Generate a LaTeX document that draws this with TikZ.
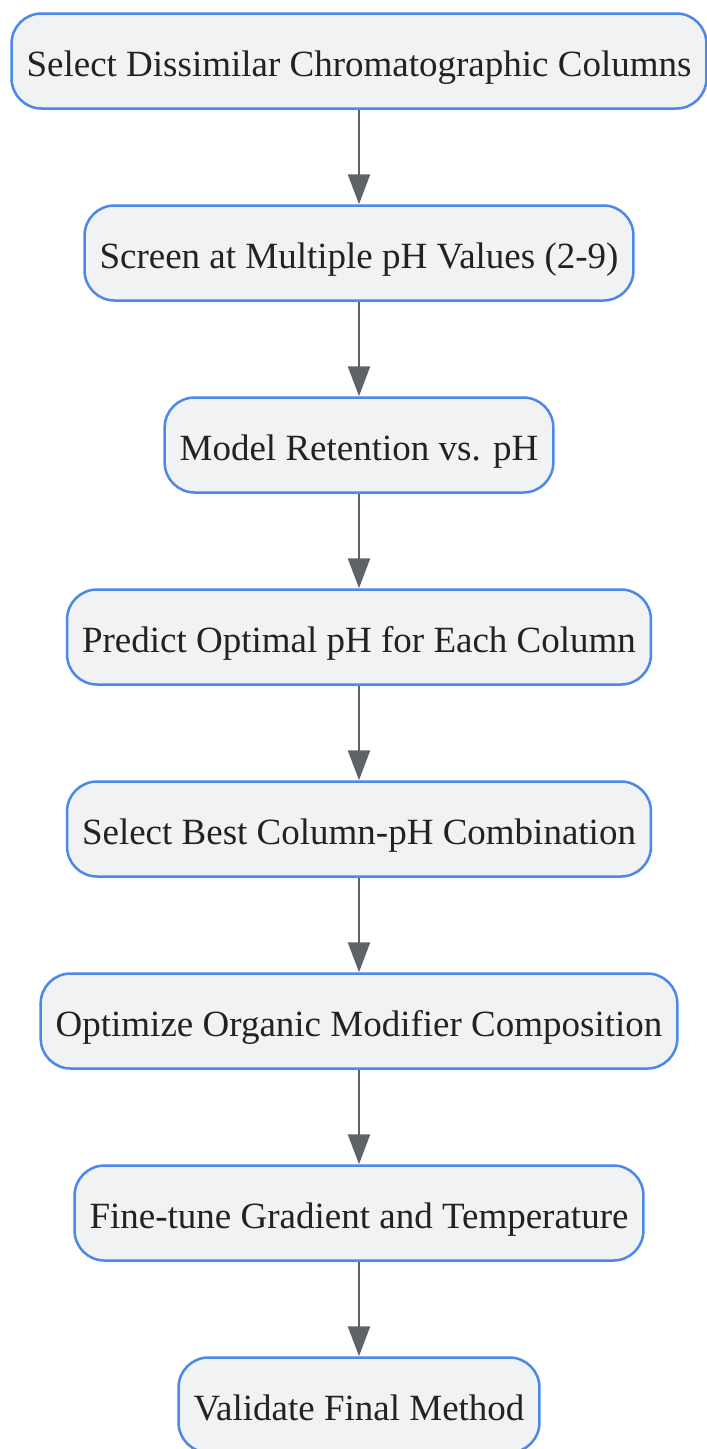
\documentclass[tikz,border=0pt]{standalone}
\usepackage{fontspec}
\setmainfont{Liberation Serif}
\usetikzlibrary{arrows.meta}
\definecolor{boxLine}{HTML}{4A88EA}
\definecolor{boxFill}{HTML}{F1F2F4}
\definecolor{arrowGray}{HTML}{5F6368}
\definecolor{textDark}{HTML}{222222}
\begin{document}
\begin{tikzpicture}[stepBox/.style={rectangle, rounded corners=30pt, draw=boxLine, fill=boxFill, line width=2.5pt, minimum height=95pt, inner xsep=15pt, text height=34pt, text depth=4pt, text=textDark, font=\fontsize{37}{44}\selectfont}, flowArrow/.style={draw=arrowGray, line width=2.5pt, -{Triangle[length=30pt, width=22pt]}}]
    \useasboundingbox (0,0) rectangle (707pt,-1449pt);
    \node[stepBox] (select)   at (359pt,   -61pt) {Select Dissimilar Chromatographic Columns};
    \node[stepBox] (screen)   at (359pt,  -253pt) {Screen at Multiple pH Values (2-9)};
    \node[stepBox] (model)    at (359pt,  -445pt) {Model Retention vs. pH};
    \node[stepBox] (predict)  at (359pt,  -637pt) {Predict Optimal pH for Each Column};
    \node[stepBox] (best)     at (359pt,  -829pt) {Select Best Column-pH Combination};
    \node[stepBox] (organic)  at (359pt, -1021pt) {Optimize Organic Modifier Composition};
    \node[stepBox] (finetune) at (359pt, -1213pt) {Fine-tune Gradient and Temperature};
    \node[stepBox] (validate) at (359pt, -1405pt) {Validate Final Method};

    \draw[flowArrow] (select.south)   -- (screen.north);
    \draw[flowArrow] (screen.south)   -- (model.north);
    \draw[flowArrow] (model.south)    -- (predict.north);
    \draw[flowArrow] (predict.south)  -- (best.north);
    \draw[flowArrow] (best.south)     -- (organic.north);
    \draw[flowArrow] (organic.south)  -- (finetune.north);
    \draw[flowArrow] (finetune.south) -- (validate.north);
\end{tikzpicture}
\end{document}
